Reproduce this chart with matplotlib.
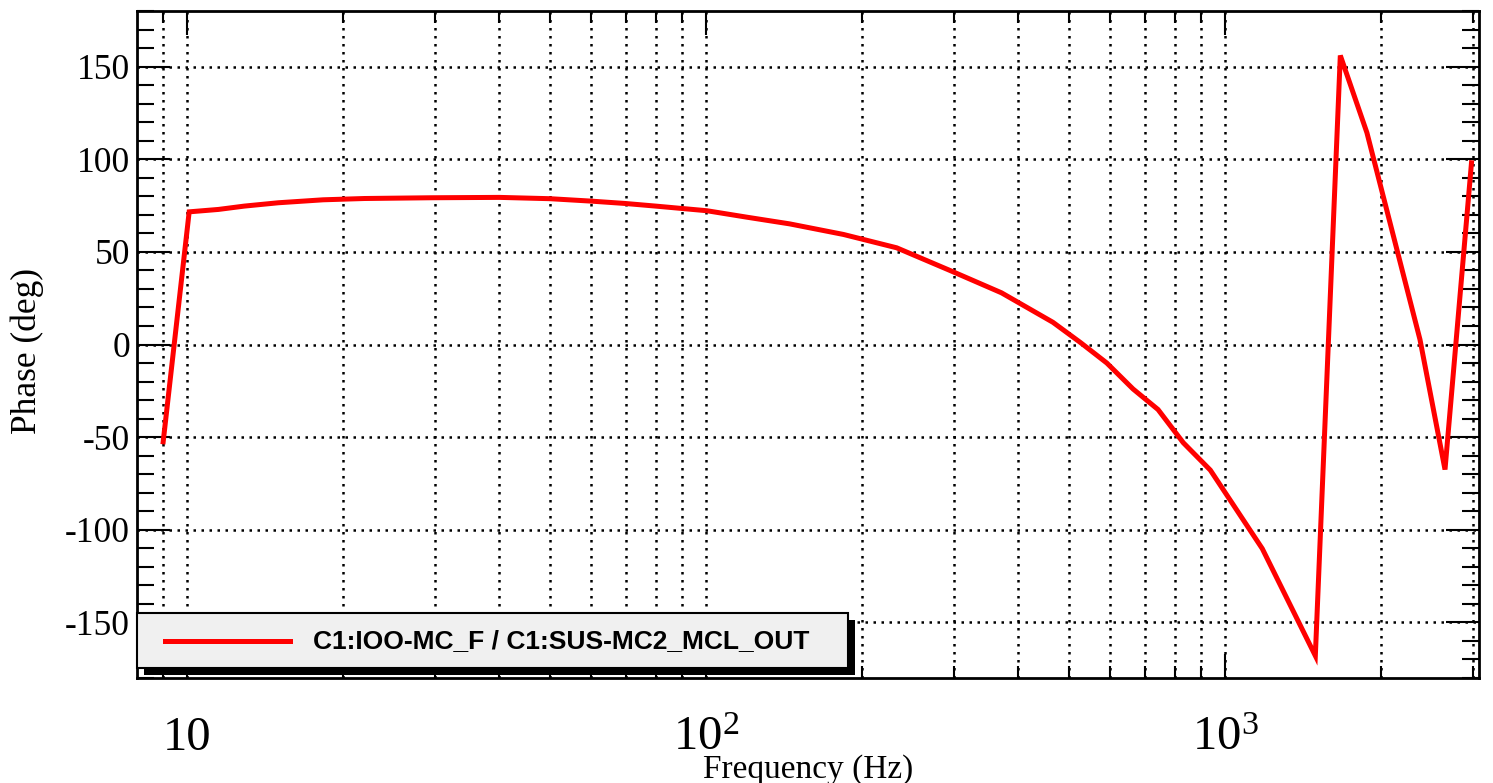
import numpy as np
import matplotlib
matplotlib.use("Agg")
import matplotlib.pyplot as plt
from matplotlib.patches import Rectangle
from matplotlib.lines import Line2D
from matplotlib.ticker import FixedLocator, FixedFormatter, LogLocator, NullFormatter, MultipleLocator

# ── Data ──────────────────────────────────────────────────────
freq = [9.0, 10.1, 11.5, 12.9, 15.0, 18.3, 22.0, 29.5, 40.0, 50.0, 60.0,
        70.0, 80.0, 90.0, 100.4, 120.0, 145.0, 184.0, 233.0, 295.0, 371.0,
        466.0, 527.0, 592.0, 665.0, 743.0, 831.0, 937.0, 1180.0, 1493.0,
        1668.0, 1877.0, 2375.0, 2654.0, 2985.0]
phase = [-52.5, 71.6, 72.9, 74.7, 76.5, 78.1, 78.8, 79.2, 79.4, 78.7, 77.4,
         76.1, 74.7, 73.4, 72.2, 68.7, 65.1, 59.4, 52.2, 40.0, 27.9,
         12.0, 1.0, -10.0, -24.0, -35.1, -53.0, -67.8, -110.2, -168.0,
         156.0, 114.3, 2.7, -67.5, 98.1]

x_ticks = [10, 100, 1000]
x_labels = ["10", "$10^{2}$", "$10^{3}$"]
y_ticks = [-150, -100, -50, 0, 50, 100, 150]
y_labels = ["-150", "-100", "-50", "0", "50", "100", "150"]
legend_label = "C1:IOO-MC_F / C1:SUS-MC2_MCL_OUT"

# ── Style ──────────────────────────────────────────────────────
plt.rcParams['font.family'] = ['Liberation Serif', 'DejaVu Serif']
plt.rcParams['mathtext.fontset'] = 'custom'
plt.rcParams['mathtext.rm'] = 'Liberation Serif'
plt.rcParams['mathtext.it'] = 'Liberation Serif:italic'
plt.rcParams['mathtext.bf'] = 'Liberation Serif:bold'

W, H = 1493, 783
fig = plt.figure(figsize=(W / 100, H / 100), dpi=100)
fig.patch.set_facecolor('white')

L, R, T, B = 137, 1479, 11, 678
ax = fig.add_axes([L / W, 1 - B / H, (R - L) / W, (B - T) / H])

ax.plot(freq, phase, color='#ff0000', lw=3.6, zorder=3,
        solid_joinstyle='miter')

ax.set_xscale('log')
ax.set_xlim(8.013, 3086)
ax.set_ylim(-180, 180)

ax.xaxis.set_major_locator(FixedLocator(x_ticks))
ax.xaxis.set_major_formatter(FixedFormatter(x_labels))
ax.xaxis.set_minor_locator(LogLocator(base=10, subs=np.arange(2, 10), numticks=20))
ax.xaxis.set_minor_formatter(NullFormatter())
ax.yaxis.set_major_locator(FixedLocator(y_ticks))
ax.yaxis.set_major_formatter(FixedFormatter(y_labels))
ax.yaxis.set_minor_locator(MultipleLocator(10))

ax.tick_params(which='both', direction='in', top=True, right=True,
               width=1.5, color='black')
ax.tick_params(axis='x', which='major', length=17, labelsize=35, pad=52)
ax.tick_params(axis='x', which='minor', length=8.6)
ax.tick_params(axis='y', which='major', length=24, labelsize=25.5, pad=5)
ax.tick_params(axis='y', which='minor', length=12)
for lbl in ax.xaxis.get_majorticklabels():
    lbl.set_va('baseline')

for sp in ax.spines.values():
    sp.set_linewidth(2.0)
    sp.set_color('black')

grid_style = dict(color='black', lw=1.8, ls=(0, (1, 2.2)), zorder=1)
ax.grid(True, which='both', axis='x', **grid_style)
ax.grid(True, which='major', axis='y', **grid_style)
ax.set_axisbelow(True)

ax.set_xlabel("Frequency (Hz)", fontsize=24, va='top')
ax.xaxis.set_label_coords(0.5, -0.114)
ax.set_ylabel("Phase (deg)", fontsize=25.5, va='center')
ax.yaxis.set_label_coords(-0.082, 0.49)

# ── Legend box (ROOT style, with hard shadow) ──────────────────
lx0, ly0 = 0.0, (B - 668) / (B - T)
lw_, lh_ = (848 - L) / (R - L), (668 - 613) / (B - T)
sdx, sdy = 7 / (R - L), 7 / (B - T)
ax.add_patch(Rectangle((lx0 + sdx, ly0 - sdy), lw_, lh_, transform=ax.transAxes,
                       facecolor='black', edgecolor='none', zorder=5, clip_on=False))
ax.add_patch(Rectangle((lx0, ly0), lw_, lh_, transform=ax.transAxes,
                       facecolor='#f0f0f0', edgecolor='black', lw=1.5, zorder=6,
                       clip_on=False))
ly = (B - 641) / (B - T)
ax.add_line(Line2D([(165 - L) / (R - L), (290 - L) / (R - L)], [ly, ly],
                   transform=ax.transAxes, color='#ff0000', lw=3.6, zorder=7))
ax.text((313 - L) / (R - L), ly, legend_label, transform=ax.transAxes,
        ha='left', va='center', fontsize=19, fontweight='bold',
        family='Liberation Sans', zorder=7)

fig.savefig("out.png", dpi=100)
plt.close(fig)
